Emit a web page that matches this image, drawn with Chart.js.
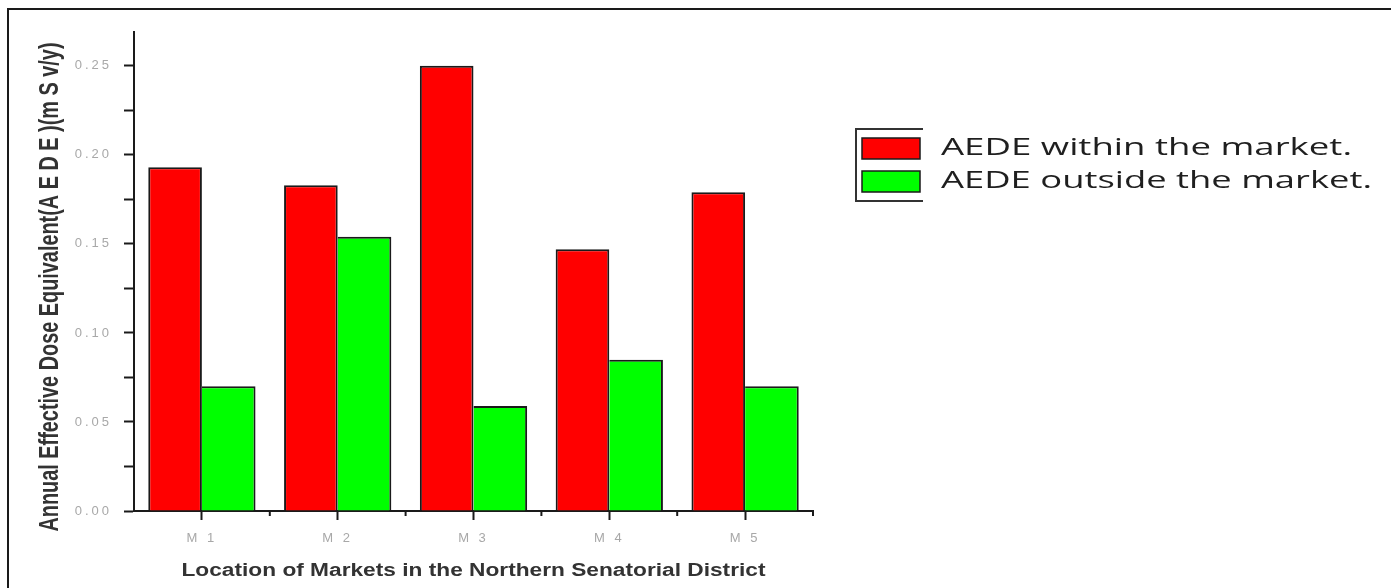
<!DOCTYPE html>
<html lang="en">

<head>
  <meta charset="UTF-8" />
  <title>AEDE chart</title>
  <style>
    html,
    body {
      margin: 0;
      padding: 0;
      background: #fff;
      overflow: hidden;
    }

    #wrap {
      position: relative;
      width: 1391px;
      height: 588px;
    }

    #chart {
      position: absolute;
      left: 0;
      top: 0;
    }

    #frame {
      position: absolute;
      left: 7px;
      top: 8px;
      width: 1400px;
      height: 700px;
      border: 2px solid #1a1a1a;
      pointer-events: none;
    }
  </style>
  <script src="https://cdn.jsdelivr.net/npm/chart.js"></script>
</head>

<body>
  <div id="wrap">
    <canvas id="chart" width="1391" height="588"></canvas>
    <div id="frame"></div>
  </div>
</body>

</html>
<script>
  // data
  const markets = ['M 1', 'M 2', 'M 3', 'M 4', 'M 5']
  const aedeWithin = [0.193, 0.183, 0.250, 0.147, 0.179]
  const aedeOutside = [0.070, 0.154, 0.059, 0.085, 0.070]
  const yMin = 0
  const yMax = 0.269
  const yStep = 0.025
  const seriesNames = ['AEDE within the market.', 'AEDE outside the market.']
  const seriesColors = ['#ff0000', '#00ff00']
  const yTitle = 'Annual Effective Dose Equivalent(A E D E )(m S v/y)'
  const xTitle = 'Location of Markets in the Northern Senatorial District'

  // draw text squeezed/stretched to a given width
  function fitText(ctx, text, x, y, width, angle) {
    const w = ctx.measureText(text).width
    ctx.save()
    ctx.translate(x, y)
    ctx.rotate(angle)
    ctx.scale(width / w, 1)
    ctx.fillText(text, 0, 0)
    ctx.restore()
  }

  const extras = {
    id: 'extras',
    beforeDraw(chart) {
      chart.ctx.letterSpacing = '3px'
    },
    beforeDatasetsDraw(chart) {
      chart.ctx.letterSpacing = '0px'
    },
    afterDraw(chart) {
      const ctx = chart.ctx
      const xs = chart.scales.x
      const area = chart.chartArea
      ctx.save()

      // small ticks between categories
      const half = xs.width / markets.length / 2
      ctx.strokeStyle = '#1a1a1a'
      ctx.lineWidth = 2
      for (let i = 0; i < markets.length; i++) {
        const x = xs.getPixelForValue(i) + half
        ctx.beginPath()
        ctx.moveTo(x, area.bottom)
        ctx.lineTo(x, area.bottom + 5)
        ctx.stroke()
      }

      // axis titles
      ctx.fillStyle = '#333'
      ctx.textAlign = 'center'
      ctx.textBaseline = 'alphabetic'
      ctx.font = 'bold 28px "Liberation Sans Narrow", "Liberation Sans", sans-serif'
      fitText(ctx, yTitle, 58, 287, 489, -Math.PI / 2)
      ctx.font = 'bold 18px "Liberation Sans", Arial, sans-serif'
      ctx.textBaseline = 'middle'
      fitText(ctx, xTitle, (area.left + area.right) / 2, 571, 584, 0)

      // legend
      const lx = 856, ly = 129
      ctx.strokeStyle = '#333'
      ctx.lineWidth = 2
      ctx.beginPath()
      ctx.moveTo(lx + 67, ly)
      ctx.lineTo(lx, ly)
      ctx.lineTo(lx, ly + 72)
      ctx.lineTo(lx + 67, ly + 72)
      ctx.stroke()
      ctx.textAlign = 'left'
      ctx.font = '24px "Open Sans", sans-serif'
      const widths = [411, 431]
      seriesNames.forEach((name, i) => {
        const top = ly + 9 + i * 33
        ctx.fillStyle = seriesColors[i]
        ctx.fillRect(lx + 6, top, 58, 21)
        ctx.strokeStyle = '#1a1a1a'
        ctx.lineWidth = 1.5
        ctx.strokeRect(lx + 6, top, 58, 21)
        ctx.fillStyle = '#1f1f1f'
        fitText(ctx, name, 941, top + 10, widths[i], 0)
      })
      ctx.restore()
    }
  }

  const tickFont = { family: '"Liberation Sans Narrow", "Liberation Sans", sans-serif', size: 13 }

  new Chart(document.querySelector('#chart'), {
    type: 'bar',
    data: {
      labels: markets,
      datasets: [{
        label: seriesNames[0],
        data: aedeWithin,
        backgroundColor: seriesColors[0],
        borderWidth: { top: 2, left: 2, right: 2, bottom: 0 }
      }, {
        label: seriesNames[1],
        data: aedeOutside,
        backgroundColor: seriesColors[1],
        borderWidth: { top: 2, left: 0, right: 2, bottom: 0 }
      }]
    },
    options: {
      responsive: false,
      animation: false,
      layout: { padding: { top: 32, right: 578, bottom: 0, left: 0 } },
      datasets: {
        bar: {
          barPercentage: 1,
          categoryPercentage: 0.79,
          borderColor: '#1a1a1a',
          borderSkipped: false
        }
      },
      plugins: {
        legend: { display: false },
        tooltip: { enabled: false }
      },
      scales: {
        x: {
          afterFit: s => { s.height = 77 },
          border: { color: '#1a1a1a', width: 2 },
          grid: { offset: false, drawOnChartArea: false, tickLength: 9, tickColor: '#1a1a1a', tickWidth: 2 },
          ticks: { color: '#a8a8a8', font: tickFont, padding: 11, autoSkip: false, maxRotation: 0 }
        },
        y: {
          min: yMin,
          max: yMax,
          afterFit: s => { s.width = 134 },
          border: { color: '#1a1a1a', width: 2 },
          grid: { drawOnChartArea: false, tickLength: 10, tickColor: '#1a1a1a', tickWidth: 2 },
          ticks: {
            stepSize: yStep,
            includeBounds: false,
            color: '#a8a8a8',
            font: tickFont,
            padding: 12,
            callback: v => Math.round(v * 1000) % 50 === 0 ? v.toFixed(2) : ''
          }
        }
      }
    },
    plugins: [extras]
  })
</script>
